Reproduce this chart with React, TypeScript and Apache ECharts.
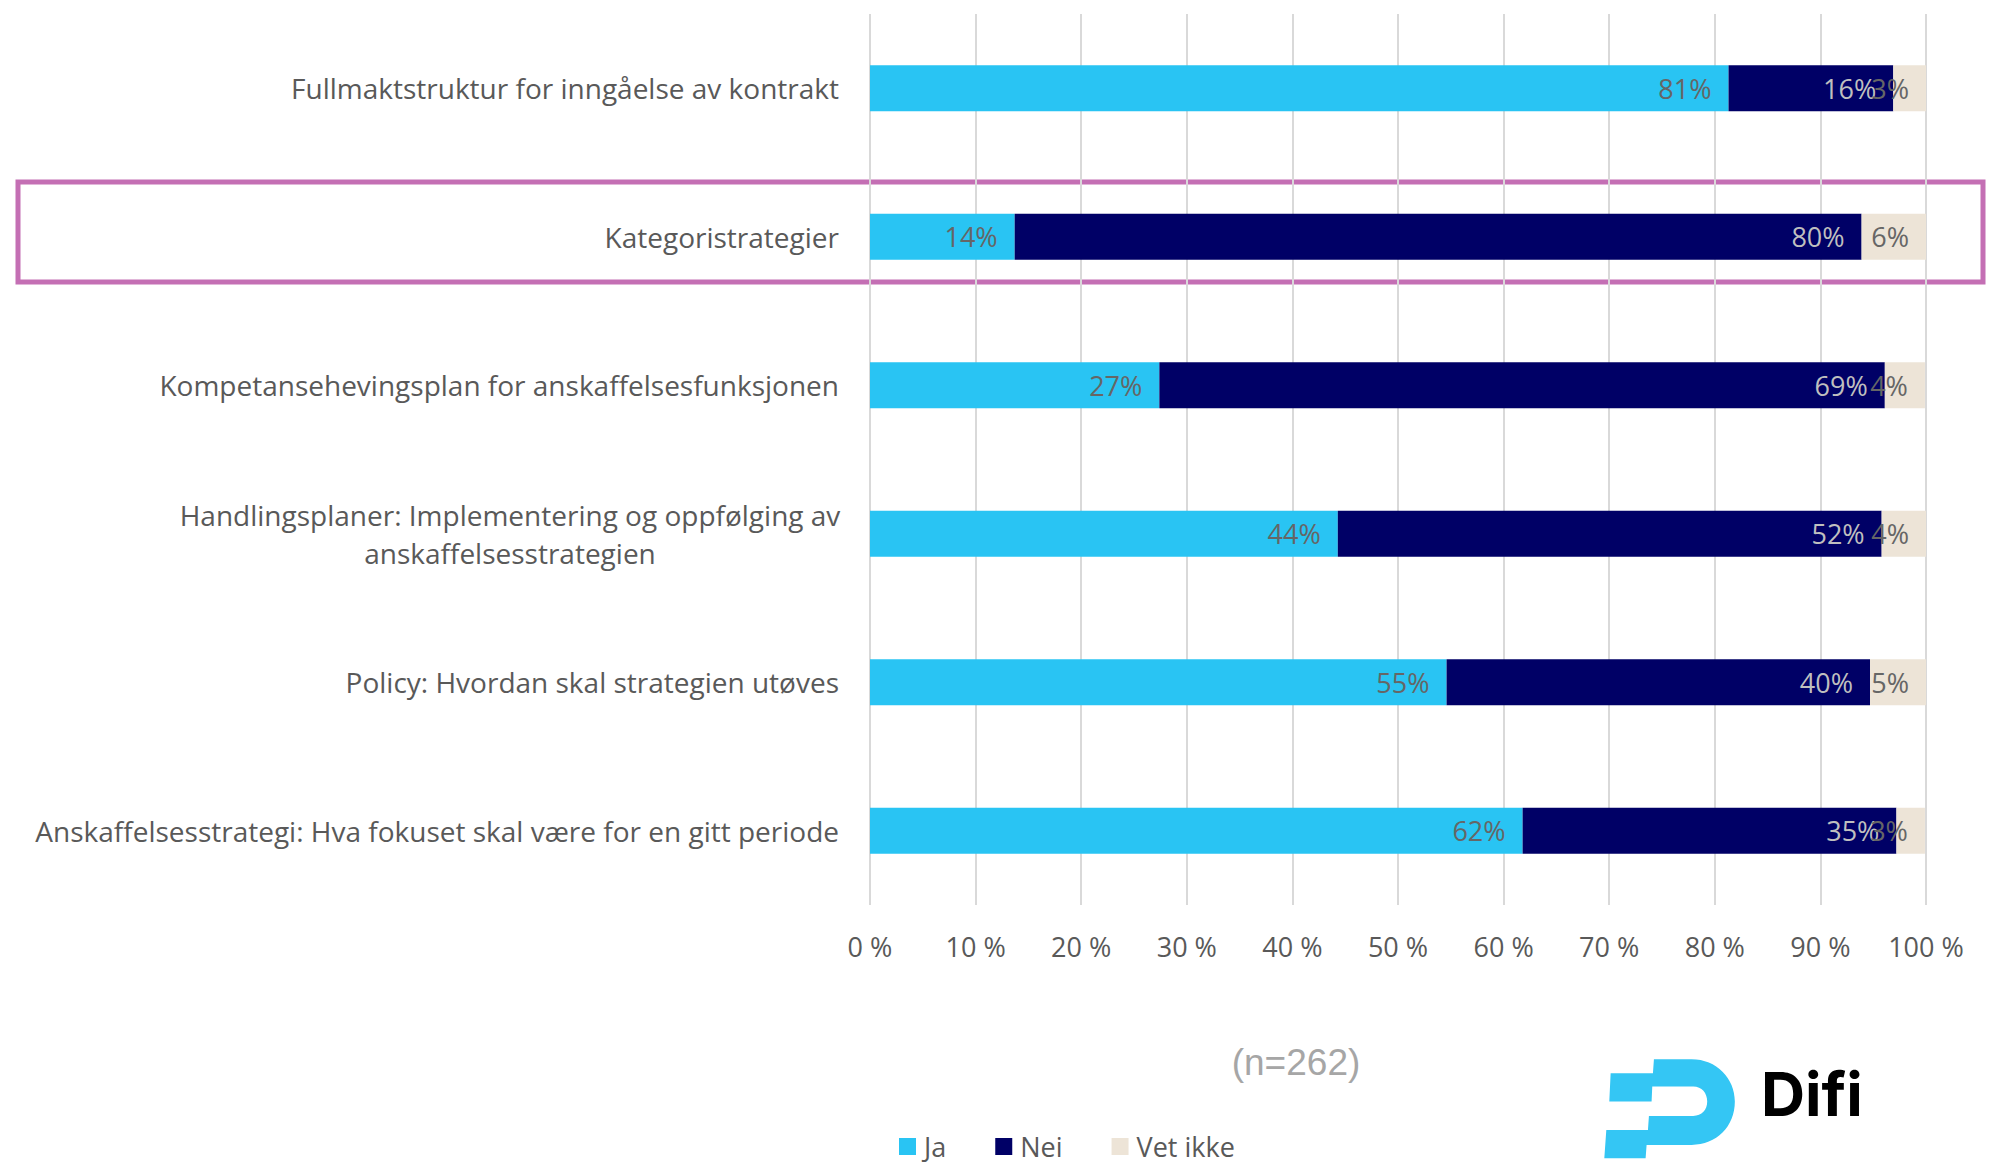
import React, { useEffect, useRef } from "react";
import * as echarts from "echarts";

const categories = [
  "Fullmaktstruktur for inngåelse av kontrakt",
  "Kategoristrategier",
  "Kompetansehevingsplan for anskaffelsesfunksjonen",
  "Handlingsplaner: Implementering og oppfølging av\nanskaffelsesstrategien",
  "Policy: Hvordan skal strategien utøves",
  "Anskaffelsesstrategi: Hva fokuset skal være for en gitt periode",
];
const jaValues = [81.3, 13.7, 27.4, 44.3, 54.6, 61.8];
const neiValues = [15.6, 80.2, 68.7, 51.5, 40.1, 35.4];
const vetIkkeValues = [3.1, 6.1, 3.8, 4.2, 5.3, 2.7];
const seriesNames = ["Ja", "Nei", "Vet ikke"];
const sampleNote = "(n=262)";

const LOGO_D =
  "M222 88 L335 88 C410 88 465 145 465 215 C465 290 410 345 335 345 L200 345 L197 385 L73 385 L79 300 L204 300 L207 258 L340 258 C366 258 382 240 382 215 C382 190 366 170 340 170 L217 170 L215 215 L88 215 L92 130 L219 130 Z";

let registered = false;
function ensureShape() {
  if (registered) return;
  echarts.graphic.registerShape("difiLogo", echarts.graphic.extendPath(LOGO_D, {}) as any);
  registered = true;
}

const FONT = "Open Sans";
const GREY = "#595959";

export default function App() {
  const ref = useRef<HTMLDivElement>(null);
  useEffect(() => {
    ensureShape();
    document.body.style.margin = "0";
    const chart = echarts.init(ref.current!, null, { renderer: "svg" });
    const labelFmt = (p: any) => Math.round(p.value) + "%";
    const mkLabel = (color: string) => ({
      show: true,
      position: "insideRight",
      distance: 17,
      formatter: labelFmt,
      color,
      fontSize: 27,
      fontFamily: FONT,
    });
    chart.setOption({
      animation: false,
      backgroundColor: "#ffffff",
      grid: { left: 870, top: 14, width: 1056, height: 891, containLabel: false, outerBoundsMode: "none" },
      xAxis: {
        type: "value",
        min: 0,
        max: 100,
        interval: 10,
        axisLine: { show: false },
        axisTick: { show: false },
        splitLine: { show: true, lineStyle: { color: "#d9d9d9", width: 2 } },
        axisLabel: { formatter: "{value} %", fontSize: 27, color: GREY, fontFamily: FONT, margin: 28 },
      },
      yAxis: {
        type: "category",
        inverse: true,
        data: categories,
        axisLine: { show: false },
        axisTick: { show: false },
        axisLabel: {
          fontSize: 28,
          color: GREY,
          fontFamily: FONT,
          margin: 31,
          lineHeight: 38,
          formatter: (v: string) =>
            v.includes("\n") ? v.split("\n").map((l) => `{c|${l}}`).join("\n") : v,
          rich: {
            c: { width: 658, align: "center", fontSize: 28, color: GREY, fontFamily: FONT, lineHeight: 38 },
          },
        },
      },
      legend: {
        left: 894,
        top: 1128,
        itemGap: 49,
        itemWidth: 17,
        itemHeight: 17,
        icon: "rect",
        textStyle: { fontSize: 27, color: GREY, fontFamily: FONT, padding: [0, 0, 0, 3] },
        data: seriesNames,
      },
      series: [
        {
          name: seriesNames[0],
          type: "bar",
          stack: "total",
          barWidth: 46,
          itemStyle: { color: "#29c4f3" },
          label: mkLabel("#666666"),
          data: jaValues,
        },
        {
          name: seriesNames[1],
          type: "bar",
          stack: "total",
          barWidth: 46,
          itemStyle: { color: "#000066" },
          label: mkLabel("#bfbfbf"),
          data: neiValues,
        },
        {
          name: seriesNames[2],
          type: "bar",
          stack: "total",
          barWidth: 46,
          itemStyle: { color: "#ede4d7" },
          label: mkLabel("#666666"),
          data: vetIkkeValues,
        },
      ],
      graphic: [
        {
          type: "rect",
          shape: { x: 18, y: 182, width: 1965, height: 100 },
          style: { fill: "none", stroke: "#c46fb4", lineWidth: 5 },
          silent: true,
        },
        {
          type: "text",
          x: 1296,
          y: 1062,
          style: {
            text: sampleNote,
            fontSize: 37,
            fontFamily: "Liberation Sans",
            fill: "#a6a6a6",
            align: "center",
            verticalAlign: "middle",
          },
        },
        {
          type: "difiLogo",
          x: 1580,
          y: 1030,
          scaleX: 1 / 3,
          scaleY: 1 / 3,
          style: { fill: "#34c6f4" },
        },
        {
          type: "text",
          x: 1761,
          y: 1094,
          style: {
            text: "Difi",
            fontSize: 61,
            fontWeight: "bold",
            fontFamily: "Inter",
            fill: "#000000",
            align: "left",
            verticalAlign: "middle",
          },
        },
      ],
    });
    return () => chart.dispose();
  }, []);
  return (
    <div
      ref={ref}
      style={{ position: "absolute", left: 0, top: 0, width: 2006, height: 1166 }}
    />
  );
}
